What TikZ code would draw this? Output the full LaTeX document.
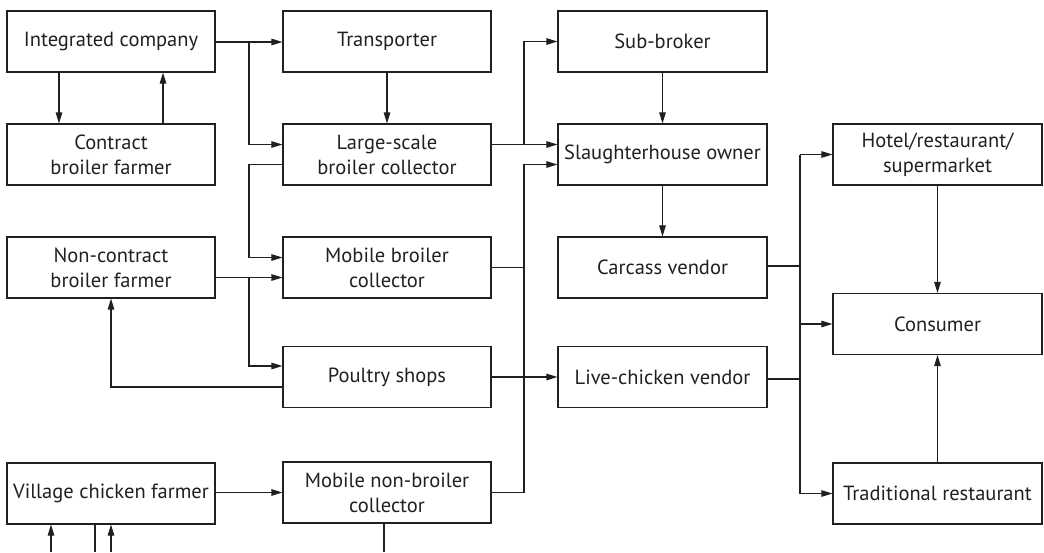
\documentclass[tikz,border=0pt]{standalone}
\usepackage{fontspec}
\setmainfont{PT Sans}
\usetikzlibrary{arrows.meta}
\definecolor{ink}{HTML}{231F20}
\begin{document}
\begin{tikzpicture}[x=1pt,y=-1pt,
  box/.style={draw=ink,line width=1.1pt,text=ink,align=center,inner sep=0pt,
    minimum width=208pt,minimum height=61pt,font=\fontsize{20.5}{25}\selectfont},
  ln/.style={draw=ink,line width=1.05pt},
  arr/.style={ln,-{Triangle[length=11pt,width=6.5pt]}}]
\useasboundingbox (0,0) rectangle (1044,552);
% column 1
\node[box] (ic)  at (111,41.5)  {Integrated company};
\node[box] (cbf) at (111,154.5) {Contract\\broiler farmer};
\node[box] (nc)  at (111,267.5) {Non-contract\\broiler farmer};
\node[box] (vcf) at (111,493.5) {Village chicken farmer};
% column 2
\node[box] (tr)  at (387,41.5)  {Transporter};
\node[box] (lsc) at (387,154.5) {Large-scale\\broiler collector};
\node[box] (mbc) at (387,267.5) {Mobile broiler\\collector};
\node[box] (ps)  at (387,377)   {Poultry shops};
\node[box] (mnb) at (387,492.5) {Mobile non-broiler\\collector};
% column 3
\node[box,minimum width=209pt] (sb) at (662.5,41.5)  {Sub-broker};
\node[box,minimum width=209pt] (sh) at (662.5,154.5) {Slaughterhouse owner};
\node[box,minimum width=209pt] (cv) at (662.5,267.5) {Carcass vendor};
\node[box,minimum width=209pt] (lc) at (662.5,377)   {Live-chicken vendor};
% column 4
\node[box,minimum width=209pt] (ho) at (937.5,154.5) {Hotel/restaurant/\\supermarket};
\node[box,minimum width=209pt] (co) at (937.5,324)   {Consumer};
\node[box,minimum width=209pt] (trd) at (937.5,493.5) {Traditional restaurant};
% bus coordinates
\coordinate (bA) at (249,42);
\coordinate (bB) at (524,144);
\coordinate (bC) at (800,154.5);
% column 1 internal
\draw[arr] (ic.south -| 59,0) -- (cbf.north -| 59,0);
\draw[arr] (cbf.north -| 163,0) -- (ic.south -| 163,0);
% integrated company -> transporter / large-scale
\draw[arr] (ic.east |- bA) -- (tr.west |- bA);
\draw[arr] (bA) |- ([yshift=10pt]lsc.west);
\draw[arr] (tr.south) -- (lsc.north);
% large-scale -> mobile broiler collector
\draw[arr] ([yshift=-10pt]lsc.west) -| (bA |- 0,230) |- ([yshift=10pt]mbc.west);
% non-contract -> mobile broiler / poultry shops
\draw[arr] ([yshift=-10pt]nc.east) -- ([yshift=-10pt]mbc.west);
\coordinate (j2) at (bA |- 0,277.5);
\draw[arr] (j2) |- ([yshift=11pt]ps.west);
% poultry shops -> non-contract
\draw[arr] ([yshift=-10pt]ps.west) -| (nc.south);
% large-scale -> slaughterhouse / sub-broker
\draw[arr] ([yshift=10pt]lsc.east) -- ([yshift=10pt]sh.west);
\draw[arr] (bB) |- (sb.west);
\draw[arr] (sb.south) -- (sh.north);
\draw[arr] (sh.south) -- (cv.north);
% mobile collectors -> slaughterhouse
\draw[arr] (mnb.east) -| (bB |- 0,300) |- ([yshift=-10pt]sh.west);
\draw[ln] (mbc.east) -- (mbc.east -| bB);
% poultry shops -> live chicken vendor
\draw[arr] (ps.east) -- (lc.west);
% village chicken farmer -> mobile non-broiler collector
\draw[arr] (vcf.east |- mnb.west) -- (mnb.west);
% vendors -> consumers
\draw[ln] ([yshift=1.5pt]cv.east) -- ([yshift=1.5pt]cv.east -| bC);
\draw[ln] ([yshift=-2pt]lc.east) -- ([yshift=-2pt]lc.east -| bC);
\draw[arr] (bC) -- (ho.west);
\draw[arr] (co.west -| bC) -- (co.west);
\draw[arr] (bC) |- (trd.west);
\draw[arr] (ho.south) -- (co.north);
\draw[arr] (trd.north) -- (co.south);
% dangling lines at the bottom edge
\coordinate (d1) at (51,552);
\coordinate (d2) at (95,552);
\coordinate (d3) at (111,552);
\coordinate (d4) at (384,552);
\draw[arr] (d1) -- (d1 |- vcf.south);
\draw[ln] (d2 |- vcf.south) -- (d2);
\draw[arr] (d3) -- (d3 |- vcf.south);
\draw[ln] (d4 |- mnb.south) -- (d4);
\end{tikzpicture}
\end{document}
